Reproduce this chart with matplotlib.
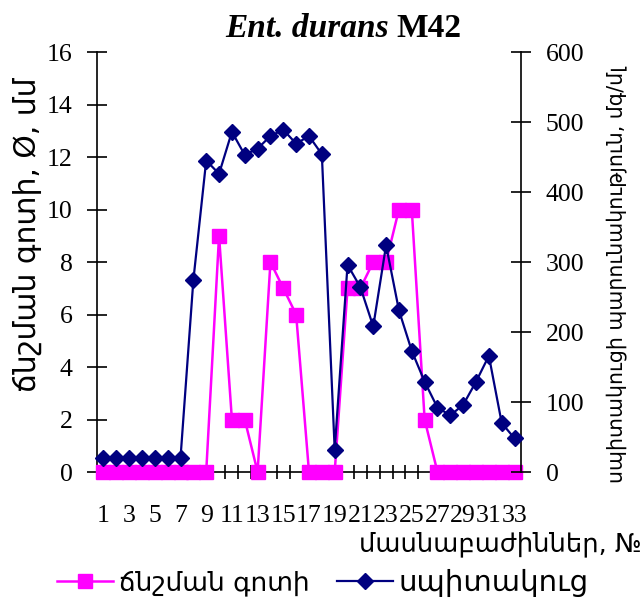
import numpy as np
import matplotlib
matplotlib.use('Agg')
import matplotlib.pyplot as plt
from matplotlib.lines import Line2D

# fraction numbers and the two measured series
fractions = list(range(1, 34))
zone = [0, 0, 0, 0, 0, 0, 0, 0, 0,
        9, 2, 2, 0, 8, 7, 6, 0, 0, 0,
        7, 7, 8, 8, 10, 10, 2,
        0, 0, 0, 0, 0, 0, 0]
protein = [20, 20, 20, 20, 20, 20, 20,
           274, 445, 426, 486, 453, 462, 480, 489, 469, 480, 454,
           32, 296, 264, 208, 324, 231, 173, 129, 92, 81, 96, 129, 166, 70, 48]
xtick_pos = list(range(1, 34, 2))
xtick_labels = [str(n) for n in xtick_pos]

zone_name = 'ճնշման գոտի'
protein_name = 'սպիտակուց'
left_label = 'ճնշման գոտի, Ø, մմ'
right_label = 'սպիտակուցի պարունակություն, մգ/մլ'
x_label = 'մասնաբաժիններ, №'

MAG = '#FF00FF'
NAVY = '#000080'
ARM = ['DejaVu Sans']
NUM = 18.5

plt.rcParams['font.family'] = ['Liberation Serif', 'DejaVu Sans']

fig = plt.figure(figsize=(6.44, 6.04), dpi=100)
ax = fig.add_axes([0.1506, 0.2185, 0.6584, 0.6954])
ax2 = ax.twinx()

ax.plot(fractions, zone, color=MAG, lw=1.8, marker='s', ms=9.8,
        mec=MAG, mfc=MAG, clip_on=False, zorder=3)
ax2.plot(fractions, protein, color=NAVY, lw=1.6, marker='D', ms=8,
         mec=NAVY, mfc=NAVY, clip_on=False, zorder=3)

ax.set_xlim(0.5, 33.5)
ax.set_ylim(0, 16)
ax2.set_ylim(0, 600)
ax.set_yticks(np.arange(0, 17, 2))
ax2.set_yticks(np.arange(0, 601, 100))

# boundaries get the tick marks, odd fractions get the labels
ax.set_xticks(np.arange(0.5, 34, 1))
ax.set_xticklabels([])
ax.set_xticks(xtick_pos, minor=True)
ax.set_xticklabels(xtick_labels, minor=True)
ax.tick_params(axis='x', which='major', direction='inout', length=10, width=1.2)
ax.tick_params(axis='x', which='minor', length=0, pad=24, labelsize=NUM)
ax.tick_params(axis='y', direction='inout', length=14.4, width=1.2, pad=10.5, labelsize=NUM)
ax2.tick_params(axis='y', direction='inout', length=14.4, width=1.2, pad=10.5, labelsize=NUM)

for a in (ax, ax2):
    a.spines['top'].set_visible(False)
    for s in a.spines.values():
        s.set_linewidth(1.2)
ax2.spines['bottom'].set_visible(False)
ax2.spines['left'].set_visible(False)
ax.spines['right'].set_visible(False)

fig.text(389 / 644, 1 - 36.7 / 604, 'Ent. durans', ha='right', va='baseline',
         fontsize=24, style='italic', weight='bold')
fig.text(396 / 644, 1 - 36.7 / 604, 'M42', ha='left', va='baseline',
         fontsize=24, weight='bold')

fig.text(27 / 644, 1 - 235 / 604, left_label, rotation=90, ha='center', va='center',
         fontsize=21.5, family=ARM)
fig.text(617 / 644, 1 - 275 / 604, right_label, rotation=90, ha='center', va='center',
         fontsize=14.8, family=ARM)
fig.text(642 / 644, 1 - 544 / 604, x_label, ha='right', va='center',
         fontsize=18.5, family=ARM)

# two one-entry legends, so each can sit where the reference has it
leg_y = 1 - 583 / 604
h1 = Line2D([], [], color=MAG, lw=1.8, marker='s', ms=9.8)
h2 = Line2D([], [], color=NAVY, lw=1.6, marker='D', ms=8)
for h, name, x0, size in ((h1, zone_name, 57, 19), (h2, protein_name, 337, 21)):
    leg = fig.legend([h], [name], loc='center left', bbox_to_anchor=(x0 / 644, leg_y),
                     frameon=False, prop={'family': ARM, 'size': size},
                     handlelength=40 / size, handletextpad=4.5 / size,
                     borderpad=0, borderaxespad=0)

fig.savefig('out.png', dpi=100)
